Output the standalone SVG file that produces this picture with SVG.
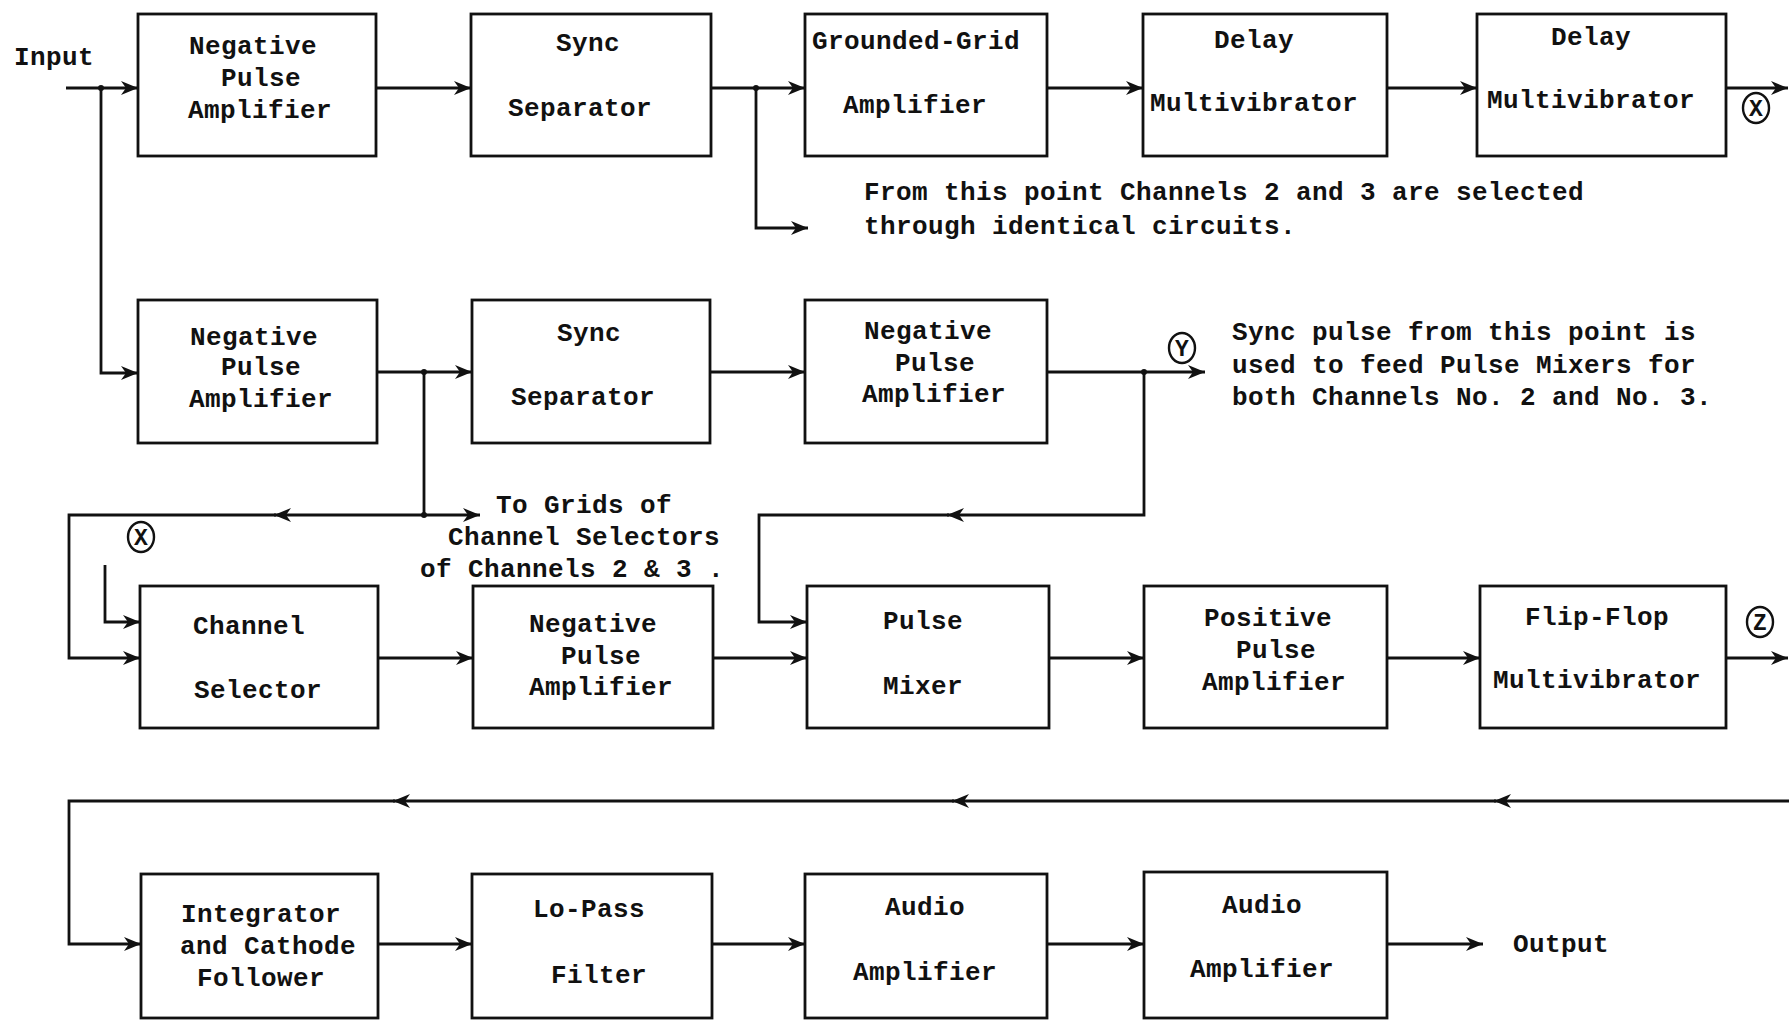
<svg xmlns="http://www.w3.org/2000/svg" width="1789" height="1020" viewBox="0 0 1789 1020">
<style>
.box{fill:#fff;stroke:#111;stroke-width:2.8}
.t{font-family:"Liberation Mono","DejaVu Sans Mono",monospace;font-size:26px;font-weight:bold;letter-spacing:0.4px;fill:#111;text-anchor:middle}
.n{font-family:"Liberation Mono","DejaVu Sans Mono",monospace;font-size:26px;font-weight:bold;letter-spacing:0.4px;fill:#111}
.c{fill:none;stroke:#111;stroke-width:2.8;stroke-linejoin:miter}
.ring{fill:#fff;stroke:#111;stroke-width:2.4}
.lbl{font-family:"Liberation Mono","DejaVu Sans Mono",monospace;font-size:23px;font-weight:bold;fill:#111;text-anchor:middle}
</style>
<defs>
<marker id="ah" markerWidth="18" markerHeight="14" refX="17" refY="7" orient="auto" markerUnits="userSpaceOnUse">
<path d="M0,0 L17,7 L0,14 L5,7 Z" fill="#111"/>
</marker>
</defs>
<rect width="1789" height="1020" fill="#fff"/>

<g id="connectors">
<path class="c" d="M66,88 H138" marker-end="url(#ah)"/>
<path class="c" d="M101,88 V373 H138" marker-end="url(#ah)"/>
<path class="c" d="M376,88 H471" marker-end="url(#ah)"/>
<path class="c" d="M711,88 H805" marker-end="url(#ah)"/>
<path class="c" d="M756,88 V228 H808" marker-end="url(#ah)"/>
<path class="c" d="M1047,88 H1143" marker-end="url(#ah)"/>
<path class="c" d="M1387,88 H1477" marker-end="url(#ah)"/>
<path class="c" d="M1726,88 H1788" marker-end="url(#ah)"/>
<path class="c" d="M377,372 H472" marker-end="url(#ah)"/>
<path class="c" d="M424,372 V515 H480" marker-end="url(#ah)"/>
<path class="c" d="M424,515 H274" marker-end="url(#ah)"/>
<path class="c" d="M276,515 H69 V658 H140" marker-end="url(#ah)"/>
<path class="c" d="M105,565 V622 H140" marker-end="url(#ah)"/>
<path class="c" d="M710,372 H805" marker-end="url(#ah)"/>
<path class="c" d="M1047,372 H1205" marker-end="url(#ah)"/>
<path class="c" d="M1144,372 V515 H947" marker-end="url(#ah)"/>
<path class="c" d="M949,515 H759 V622 H807" marker-end="url(#ah)"/>
<path class="c" d="M378,658 H473" marker-end="url(#ah)"/>
<path class="c" d="M713,658 H807" marker-end="url(#ah)"/>
<path class="c" d="M1049,658 H1144" marker-end="url(#ah)"/>
<path class="c" d="M1387,658 H1480" marker-end="url(#ah)"/>
<path class="c" d="M1726,658 H1788" marker-end="url(#ah)"/>
<path class="c" d="M1789,801 H1494" marker-end="url(#ah)"/>
<path class="c" d="M1496,801 H952" marker-end="url(#ah)"/>
<path class="c" d="M954,801 H393" marker-end="url(#ah)"/>
<path class="c" d="M395,801 H69 V944 H141" marker-end="url(#ah)"/>
<path class="c" d="M378,944 H472" marker-end="url(#ah)"/>
<path class="c" d="M712,944 H805" marker-end="url(#ah)"/>
<path class="c" d="M1047,944 H1144" marker-end="url(#ah)"/>
<path class="c" d="M1387,944 H1483" marker-end="url(#ah)"/>
<circle cx="101" cy="88" r="3" fill="#111"/>
<circle cx="756" cy="88" r="3" fill="#111"/>
<circle cx="424" cy="372" r="3" fill="#111"/>
<circle cx="424" cy="515" r="3" fill="#111"/>
<circle cx="1144" cy="372" r="3" fill="#111"/>
</g>

<g id="A1"><rect class="box" x="138" y="14" width="238" height="142"/>
<text class="t" x="253" y="54">Negative</text><text class="t" x="261" y="86">Pulse</text><text class="t" x="260" y="118">Amplifier</text></g>
<g id="A2"><rect class="box" x="471" y="14" width="240" height="142"/>
<text class="t" x="588" y="51">Sync</text><text class="t" x="580" y="116">Separator</text></g>
<g id="A3"><rect class="box" x="805" y="14" width="242" height="142"/>
<text class="t" x="916" y="49">Grounded-Grid</text><text class="t" x="915" y="113">Amplifier</text></g>
<g id="A4"><rect class="box" x="1143" y="14" width="244" height="142"/>
<text class="t" x="1254" y="48">Delay</text><text class="t" x="1254" y="111">Multivibrator</text></g>
<g id="A5"><rect class="box" x="1477" y="14" width="249" height="142"/>
<text class="t" x="1591" y="45">Delay</text><text class="t" x="1591" y="108">Multivibrator</text></g>

<g id="B1"><rect class="box" x="138" y="300" width="239" height="143"/>
<text class="t" x="254" y="345">Negative</text><text class="t" x="261" y="375">Pulse</text><text class="t" x="261" y="407">Amplifier</text></g>
<g id="B2"><rect class="box" x="472" y="300" width="238" height="143"/>
<text class="t" x="589" y="341">Sync</text><text class="t" x="583" y="405">Separator</text></g>
<g id="B3"><rect class="box" x="805" y="300" width="242" height="143"/>
<text class="t" x="928" y="339">Negative</text><text class="t" x="935" y="371">Pulse</text><text class="t" x="934" y="402">Amplifier</text></g>

<g id="C1"><rect class="box" x="140" y="586" width="238" height="142"/>
<text class="t" x="249" y="634">Channel</text><text class="t" x="258" y="698">Selector</text></g>
<g id="C2"><rect class="box" x="473" y="586" width="240" height="142"/>
<text class="t" x="593" y="632">Negative</text><text class="t" x="601" y="664">Pulse</text><text class="t" x="601" y="695">Amplifier</text></g>
<g id="C3"><rect class="box" x="807" y="586" width="242" height="142"/>
<text class="t" x="923" y="629">Pulse</text><text class="t" x="923" y="694">Mixer</text></g>
<g id="C4"><rect class="box" x="1144" y="586" width="243" height="142"/>
<text class="t" x="1268" y="626">Positive</text><text class="t" x="1276" y="658">Pulse</text><text class="t" x="1274" y="690">Amplifier</text></g>
<g id="C5"><rect class="box" x="1480" y="586" width="246" height="142"/>
<text class="t" x="1597" y="625">Flip-Flop</text><text class="t" x="1597" y="688">Multivibrator</text></g>

<g id="D1"><rect class="box" x="141" y="874" width="237" height="144"/>
<text class="t" x="261" y="922">Integrator</text><text class="t" x="268" y="954">and Cathode</text><text class="t" x="261" y="986">Follower</text></g>
<g id="D2"><rect class="box" x="472" y="874" width="240" height="144"/>
<text class="t" x="589" y="917">Lo-Pass</text><text class="t" x="599" y="983">Filter</text></g>
<g id="D3"><rect class="box" x="805" y="874" width="242" height="144"/>
<text class="t" x="925" y="915">Audio</text><text class="t" x="925" y="980">Amplifier</text></g>
<g id="D4"><rect class="box" x="1144" y="872" width="243" height="146"/>
<text class="t" x="1262" y="913">Audio</text><text class="t" x="1262" y="977">Amplifier</text></g>

<g id="markX1"><ellipse class="ring" cx="1756" cy="108" rx="13" ry="15"/><text class="lbl" x="1756" y="116">X</text></g>
<g id="markX2"><ellipse class="ring" cx="141" cy="537" rx="13" ry="15"/><text class="lbl" x="141" y="545">X</text></g>
<g id="markY"><ellipse class="ring" cx="1182" cy="348" rx="13" ry="15"/><text class="lbl" x="1182" y="356">Y</text></g>
<g id="markZ"><ellipse class="ring" cx="1760" cy="622" rx="13" ry="15"/><text class="lbl" x="1760" y="630">Z</text></g>

<g id="labels">
<text class="n" x="14" y="65">Input</text>
<text class="n" x="864" y="200">From this point Channels 2 and 3 are selected</text>
<text class="n" x="864" y="234">through identical circuits.</text>
<text class="n" x="1232" y="340">Sync pulse from this point is</text>
<text class="n" x="1232" y="373">used to feed Pulse Mixers for</text>
<text class="n" x="1232" y="405">both Channels No. 2 and No. 3.</text>
<text class="t" x="584" y="513">To Grids of</text>
<text class="t" x="584" y="545">Channel Selectors</text>
<text class="t" x="572" y="577">of Channels 2 &amp; 3 .</text>
<text class="n" x="1513" y="952">Output</text>
</g>
</svg>
